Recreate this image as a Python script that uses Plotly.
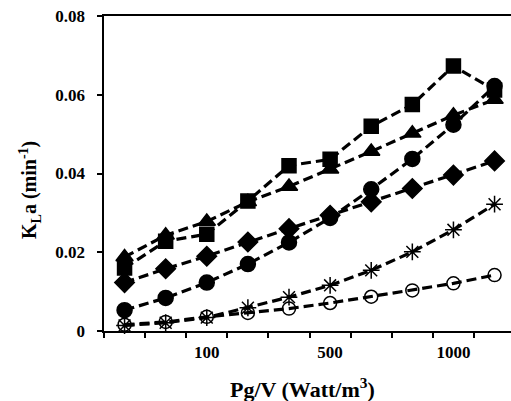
import plotly.graph_objects as go

# Pg/V categories (tick labels shown only at some categories)
x_labels = ["", "", "100", "", "", "500", "", "", "1000", ""]

squares   = [0.0160, 0.0228, 0.0246, 0.0330, 0.0420, 0.0436, 0.0520, 0.0575, 0.0673, 0.0612]
triangles = [0.0188, 0.0243, 0.0278, 0.0328, 0.0367, 0.0411, 0.0456, 0.0502, 0.0548, 0.0588]
diamonds  = [0.0123, 0.0158, 0.0190, 0.0226, 0.0260, 0.0294, 0.0328, 0.0362, 0.0396, 0.0432]
circles   = [0.0053, 0.0084, 0.0123, 0.0170, 0.0225, 0.0287, 0.0360, 0.0437, 0.0524, 0.0622]
asterisks = [0.0014, 0.0021, 0.0034, 0.0059, 0.0086, 0.0116, 0.0154, 0.0201, 0.0257, 0.0322]
open_circ = [0.0016, 0.0023, 0.0036, 0.0046, 0.0057, 0.0071, 0.0087, 0.0103, 0.0121, 0.0142]

y_ticks = [0, 0.02, 0.04, 0.06, 0.08]
y_ticktext = ["0", "0.02", "0.04", "0.06", "0.08"]

x = list(range(len(x_labels)))

series = [
    (open_circ, "circle-open", 13),
    (asterisks, "asterisk-open", 14),
    (circles, "circle", 15),
    (diamonds, "diamond", 15),
    (triangles, "triangle-up", 15),
    (squares, "square", 14),
]

fig = go.Figure()
for ys, sym, sz in series:
    fig.add_trace(go.Scatter(
        x=x, y=ys, mode="lines+markers",
        line=dict(color="black", width=3.2, dash="10px,5px"),
        marker=dict(symbol=sym, size=sz, color="black",
                    line=dict(color="black", width=1.5)),
        showlegend=False, cliponaxis=False,
    ))

FAM = "'Liberation Serif', 'Times New Roman', serif"
font = dict(family=FAM, size=17, color="black")

lab_idx = [i for i, t in enumerate(x_labels) if t]

fig.update_layout(
    width=511, height=401,
    margin=dict(l=104, r=0, t=16, b=70, autoexpand=False),
    paper_bgcolor="white", plot_bgcolor="white",
    font=font,
    xaxis=dict(
        range=[-0.5, 9.4], automargin=False,
        tickmode="array",
        tickvals=lab_idx,
        ticktext=["<b>%s</b>" % x_labels[i] for i in lab_idx],
        ticks="", tickfont=font, ticklabelstandoff=5,
        minor=dict(tickmode="linear", tick0=-0.5, dtick=1,
                   ticks="outside", ticklen=5, tickwidth=1.5, tickcolor="black",
                   showgrid=False),
        showline=True, linecolor="black", linewidth=2, mirror=True,
        showgrid=False, zeroline=False,
    ),
    yaxis=dict(
        range=[0, 0.08], automargin=False,
        tickmode="array",
        tickvals=y_ticks,
        ticktext=["<b>%s</b>\u00a0\u00a0" % t for t in y_ticktext],
        ticks="outside", ticklen=5, tickwidth=1.5, tickcolor="black",
        tickfont=font,
        showline=True, linecolor="black", linewidth=2,
        showgrid=False, zeroline=False,
    ),
)

pw = 511 - 104
ph = 401 - 16 - 70
fig.add_annotation(text="<b>Pg/V (Watt/m<sup>3</sup>)</b>",
                   x=(302 - 104) / pw, y=(331 - 388) / ph,
                   xref="paper", yref="paper", showarrow=False,
                   xanchor="center", yanchor="middle",
                   font=dict(family=FAM, size=22, color="black"))
fig.add_annotation(text="<b>K<sub>L</sub>a (min<sup>-1</sup>)</b>", textangle=-90,
                   x=(30 - 104) / pw, y=(331 - 190) / ph,
                   xref="paper", yref="paper", showarrow=False,
                   xanchor="center", yanchor="middle",
                   font=dict(family=FAM, size=20, color="black"))

fig.write_html("out.html", config={"displayModeBar": False},
               post_script="document.body.style.margin='0';document.body.style.overflow='hidden';")
